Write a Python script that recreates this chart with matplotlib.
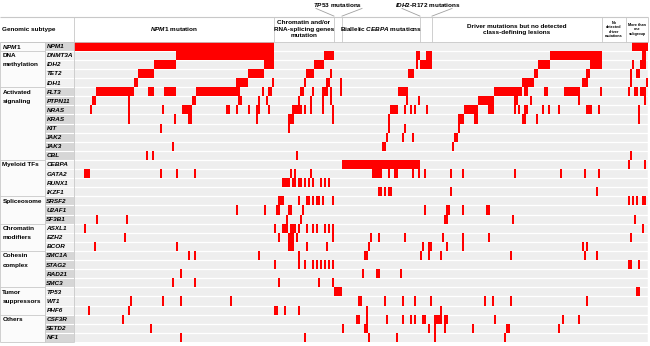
import matplotlib
matplotlib.use('Agg')
import numpy as np
import matplotlib.pyplot as plt

plt.rcParams['font.family'] = ['Liberation Sans', 'DejaVu Sans']
plt.rcParams['mathtext.fontset'] = 'custom'
plt.rcParams['mathtext.it'] = 'Liberation Sans:italic:bold'
plt.rcParams['mathtext.rm'] = 'Liberation Sans:bold'

# genes (rows) and functional groups
genes = ['NPM1', 'DNMT3A', 'IDH2', 'TET2', 'IDH1', 'FLT3', 'PTPN11', 'NRAS', 'KRAS', 'KIT',
         'JAK2', 'JAK3', 'CBL', 'CEBPA', 'GATA2', 'RUNX1', 'IKZF1', 'SRSF2', 'U2AF1', 'SF3B1',
         'ASXL1', 'EZH2', 'BCOR', 'SMC1A', 'STAG2', 'RAD21', 'SMC3', 'TP53', 'WT1', 'PHF6',
         'CSF3R', 'SETD2', 'NF1']
group_names = ['$\\it{NPM1}$', 'DNA\nmethylation', 'Activated\nsignaling', 'Myeloid TFs', 'Spliceosome',
               'Chromatin\nmodifiers', 'Cohesin\ncomplex', 'Tumor\nsuppressors', 'Others']
group_sizes = [1, 4, 8, 4, 3, 3, 4, 3, 3]

# genomic subtypes (columns = patients)
subtype_names = ['$\\it{NPM1}$ mutation', 'Chromatin and/or\nRNA-splicing genes\nmutation', '',
                 'Biallelic $\\it{CEBPA}$ mutations', '',
                 'Driver mutations but no detected\nclass-defining lesions',
                 'No\ndetected\ndriver\nmutations', 'More than\none\nsubgroup']
subtype_sizes = [100, 30, 4, 39, 6, 85, 12, 11]

# mutated patients per gene (single index or inclusive range)
muts = {
    'NPM1': [(0, 99), (279, 286)],
    'DNMT3A': [(51, 99), (125, 129), (171, 172), (176, 178), (238, 263), (284, 285)],
    'IDH2': [(40, 50), (95, 99), (120, 124), 171, (173, 178), (232, 237), (258, 263), 279, (283, 285)],
    'TET2': [(32, 39), (87, 94), (116, 119), 128, (167, 169), (230, 231), (256, 257), 278, (281, 282)],
    'IDH1': [(30, 31), (81, 86), 99, 115, (126, 127), 133, (224, 229), (254, 256), 278, 286],
    'FLT3': [(11, 29), (37, 39), (45, 50), (61, 82), 94, (97, 98), (113, 114), 119, (124, 126), 128, 133,
             (162, 166), (210, 223), (225, 226), (235, 236), (245, 252), 263, 277, (280, 281), (283, 285)],
    'PTPN11': [(9, 10), 27, (59, 60), (82, 83), 92, 96, 112, 118, 124, 128, 166, 172, (202, 209),
               (220, 221), 228, 252, 285],
    'NRAS': [8, 27, 44, (54, 58), (76, 77), 81, 87, (91, 92), 97, (109, 113), 115, 118, 124, 129,
             (158, 161), 165, 168, 170, 176, (195, 201), (207, 209), 220, 222, (225, 226), 234, 237,
             242, (256, 258), 262, 282],
    'KRAS': [27, 50, (57, 58), 91, (107, 109), 129, 157, (192, 194), (200, 201), (224, 225), 231, 282],
    'KIT': [43, 107, 157, 165, 192],
    'JAK2': [156, 164, 169, (190, 191)],
    'JAK3': [49, (154, 155), 189],
    'CBL': [36, 39, 111, 278],
    'CEBPA': [(134, 172), 277, 285],
    'GATA2': [(5, 7), 43, 51, 60, 108, 110, 118, (149, 153), 157, (160, 161), 169, 172, 175, 188, 194,
              220, 243, 255, 262],
    'RUNX1': [(104, 107), (109, 110), (112, 113), 115, 117, 119, 123, 125, 127],
    'IKZF1': [(152, 153), 155, (157, 158), 188, 261],
    'SRSF2': [(102, 104), 112, (116, 117), 119, (121, 122), 124, 129, 277, 279, 281, (284, 285)],
    'U2AF1': [81, 95, (101, 102), (107, 108), 114, 175, (186, 187), 194, (206, 207)],
    'SF3B1': [11, 26, 106, 113, (185, 186), 219, 280],
    'ASXL1': [5, 100, (104, 106), (108, 110), 112, 116, 119, 121, 125, 127, 129, 284],
    'EZH2': [25, 102, (107, 109), 111, 129, 148, 152, 165, 184, 194, 207, 278],
    'BCOR': [10, 51, (107, 109), 116, 126, 147, 174, (177, 178), 186, 194, 254, 256],
    'SMC1A': [57, 60, 92, 112, (145, 146), 173, 177, 183, 218, 255, 261],
    'STAG2': [100, 112, 115, 119, 121, 123, 125, 127, 129, (277, 278), 282],
    'RAD21': [53, 144, (151, 152), 163],
    'SMC3': [49, 60, 102, 122, 129],
    'TP53': [(130, 133), (281, 282)],
    'WT1': [28, 44, 53, 78, (142, 143), 155, 164, 170, 178, 205, 209, 218, 256],
    'PHF6': [7, 27, (100, 101), 105, 112, 146, 183],
    'CSF3R': [24, (141, 142), 146, 156, 164, 168, 170, (174, 175), (180, 183), (185, 186), 210, 244, 252],
    'SETD2': [38, 134, (145, 146), 177, 180, 185, 199, (216, 217), 242],
    'NF1': [53, 115, 147, 161, 180, 215],
}

n_pat = sum(subtype_sizes)
n_gene = len(genes)
red = '#ff0000'
line_c = '#c8c8c8'
fs = 4.6

fig = plt.figure(figsize=(6.5, 3.46), dpi=100)
ax = fig.add_axes([0, 0, 1, 1])
# one column = 2 px, one row = 9.1 px
ax.set_xlim(-37, 288)
ax.set_ylim(33.44, -4.58)
ax.axis('off')

# matrix background and grid
ax.add_patch(plt.Rectangle((0, 0), n_pat, n_gene, fc='#f2f2f2', ec='none', zorder=0))
ax.vlines(np.arange(1, n_pat), 0, n_gene, color='#e0e0e0', lw=0.3, zorder=1)
ax.hlines(np.arange(1, n_gene), 0, n_pat, color='white', lw=0.9, zorder=1)

# mutations
for i, g in enumerate(genes):
    for m in muts[g]:
        a, b = (m, m) if isinstance(m, int) else m
        ax.barh(i + 0.5, b - a + 1, left=a, height=1, color=red, lw=0, zorder=2)

# left table: gene column shading and group labels (one line per row)
row = 0
for k, (name, size) in enumerate(zip(group_names, group_sizes)):
    shade = '#d6d6d6' if k % 2 == 0 else '#f1f1f1'
    ax.add_patch(plt.Rectangle((-14.5, row), 14.5, size, fc=shade, ec='none', zorder=0))
    ax.add_patch(plt.Rectangle((-37, row), 22.5, size, fc='#fbfbfb', ec='none', zorder=0))
    for j, part in enumerate(name.split('\n')):
        ax.text(-35.8, row + j + 0.55, part, fontsize=fs, fontweight='bold',
                va='center', ha='left')
    ax.hlines(row, -37, 0, color=line_c, lw=0.6)
    row += size
ax.hlines(n_gene, -37, 0, color=line_c, lw=0.6)
ax.hlines(np.arange(1, n_gene), -14.5, 0, color='white', lw=0.8)
for i, g in enumerate(genes):
    ax.text(-13.8, i + 0.55, g, fontsize=fs, fontweight='bold', fontstyle='italic',
            va='center', ha='left')
ax.vlines([-37, -14.5, 0], 0, n_gene, color=line_c, lw=0.6)

# header row
top = -2.71
ax.hlines(top, -37, n_pat, color=line_c, lw=0.8)
ax.hlines(0, -37, n_pat, color=line_c, lw=0.6)
ax.text(-35.8, -1.35, 'Genomic subtype', fontsize=fs, fontweight='bold', va='center', ha='left')
edges = np.concatenate([[0], np.cumsum(subtype_sizes)])
ax.vlines(edges, top, 0, color=line_c, lw=0.6)
for k, name in enumerate(subtype_names):
    if not name:
        continue
    cx = (edges[k] + edges[k + 1]) / 2
    small = subtype_sizes[k] < 15
    ax.text(cx, -1.35, name, fontsize=2.7 if small else fs, fontweight='bold',
            va='center', ha='center', linespacing=1.1 if small else 1.35)

# labels above the narrow subtypes
for k, name in [(2, '$\\it{TP53}$ mutations'), (4, '$\\it{IDH2}$-R172 mutations')]:
    x0, x1 = edges[k], edges[k + 1]
    cx = (x0 + x1) / 2
    ax.text(cx + (0 if k == 2 else 1), -4.05, name, fontsize=fs, fontweight='bold',
            va='center', ha='center')
    ax.plot([x0 - 9, x0], [-3.65, top - 0.1], color='#a0a0a0', lw=0.6)
    ax.plot([x1 + 10, x1], [-3.65, top - 0.1], color='#a0a0a0', lw=0.6)

fig.savefig('out.png', dpi=100)
